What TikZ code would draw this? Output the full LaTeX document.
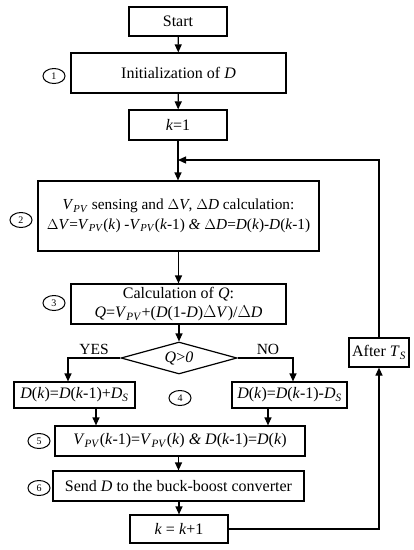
\documentclass[tikz,border=0pt]{standalone}
\usepackage{fontspec}
\setmainfont{Liberation Serif}
\usetikzlibrary{arrows.meta,shapes.geometric,positioning}
\newcommand\ivar[1]{\textit{#1}}
\newcommand\vpv{\textit{V}\textsubscript{\textit{PV}}}
\tikzset{
  box/.style={draw,line width=1.2pt,inner sep=0pt,align=center,font=\fontsize{16}{19.5}\selectfont},
  numc/.style={draw,ellipse,line width=1pt,minimum width=22pt,minimum height=15pt,inner sep=0pt,font=\fontsize{10}{11}\selectfont},
  arr/.style={line width=1.2pt,-{Triangle[length=8pt,width=7pt]}},
  lab/.style={font=\fontsize{15.5}{18}\selectfont,inner sep=0pt}
}
\begin{document}
\begin{tikzpicture}[x=1pt,y=-1pt]
\useasboundingbox (0,0) rectangle (414,550);
\node[box,minimum width=98pt,minimum height=29pt] (start) at (178,21.5) {Start};
\node[box,minimum width=215pt,minimum height=40pt] (init) at (178.5,73) {Initialization of \ivar{D}};
\node[numc] (c1) at (54,76) {1};
\node[box,minimum width=98pt,minimum height=30pt] (k1) at (178,125) {\ivar{k}=1};
\coordinate (j) at (178,160);
\node[box,minimum width=281pt,minimum height=70pt,font=\fontsize{15.3}{19.5}\selectfont] (b2) at (178.5,216)
  {\vpv{} sensing and $\Delta$\ivar{V}, $\Delta$\ivar{D} calculation:\\
   $\Delta$\ivar{V}=\vpv(\ivar{k}) -\vpv(\ivar{k}-1) \ivar{\&} $\Delta$\ivar{D}=\ivar{D}(\ivar{k})-\ivar{D}(\ivar{k}-1)};
\node[numc] (c2) at (21,220) {2};
\node[box,minimum width=215pt,minimum height=40pt] (b3) at (178.5,304)
  {Calculation of \ivar{Q}:\\ \ivar{Q}=\vpv+(\ivar{D}(1-\ivar{D})$\Delta$\ivar{V})/$\Delta$\ivar{D}};
\node[numc] (c3) at (54,303) {3};
\node[draw,diamond,line width=1.2pt,minimum width=116pt,minimum height=32pt,inner sep=0pt,aspect=3.6,font=\fontsize{16}{19}\selectfont] (dia) at (179,358) {\ivar{Q}>\ivar{0}};
\node[lab] (yes) at (94,349) {YES};
\node[lab] (no) at (268,349) {NO};
\node[box,minimum width=121pt,minimum height=26pt] (lb) at (74.5,395)
  {\ivar{D}(\ivar{k})=\ivar{D}(\ivar{k}-1)+\ivar{D}\textsubscript{\ivar{S}}};
\node[box,minimum width=115pt,minimum height=26pt] (rb) at (289.5,395)
  {\ivar{D}(\ivar{k})=\ivar{D}(\ivar{k}-1)-\ivar{D}\textsubscript{\ivar{S}}};
\node[numc] (c4) at (180,398) {4};
\node[box,minimum width=60pt,minimum height=29pt] (after) at (379,352.5) {After \ivar{T}\textsubscript{\ivar{S}}};
\node[box,minimum width=250pt,minimum height=30pt] (b5) at (180,441)
  {\vpv(\ivar{k}-1)=\vpv(\ivar{k}) \ivar{\&} \ivar{D}(\ivar{k}-1)=\ivar{D}(\ivar{k})};
\node[numc] (c5) at (39,441) {5};
\node[box,minimum width=251pt,minimum height=30pt] (b6) at (178.5,486) {Send \ivar{D} to the buck-boost converter};
\node[numc] (c6) at (39,488) {6};
\node[box,minimum width=98pt,minimum height=28pt] (kk) at (179,529) {\ivar{k} = \ivar{k}+1};
% connectors
\draw[arr] (start) -- (init);
\draw[arr] (init) -- (k1);
\draw[arr] (k1) -- (b2.north -| k1.south);
\draw[arr] (b2.south -| b3.north) -- (b3);
\draw[arr] (b3.south -| dia.north) -- (dia);
\coordinate (li) at ([xshift=-6.5pt]lb.north);
\coordinate (ri) at ([xshift=3.5pt]rb.north);
\draw[arr] (dia.west) -| (li);
\draw[arr] (dia.east) -| (ri);
\coordinate (lo) at ([xshift=21.5pt]lb.south);
\coordinate (ro) at ([xshift=-21.5pt]rb.south);
\draw[arr] (lo) -- (lo |- b5.north);
\draw[arr] (ro) -- (ro |- b5.north);
\draw[arr] (b5.south -| b6.north) -- (b6);
\draw[arr] (b6.south -| kk.north) -- (kk);
\draw[arr] (kk.east) -| (after.south);
\draw[arr] (after.north) |- (j);
\end{tikzpicture}
\end{document}
